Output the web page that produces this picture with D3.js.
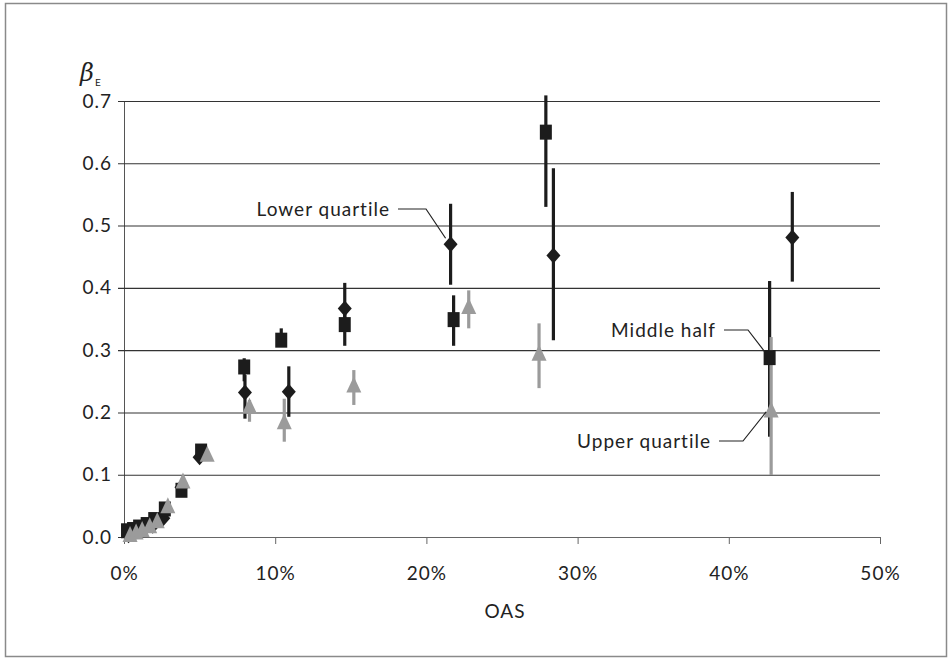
<!DOCTYPE html>
<html>
<head>
<meta charset="utf-8">
<script src="https://cdn.jsdelivr.net/npm/d3@7"></script>
<style>
  body { margin: 0; background: #fff; }
  text { font-family: Lato, "Noto Sans", sans-serif; fill: #222; }
</style>
</head>
<body>
<div id="chart"></div>
<script>
// data (OAS in %, beta_E)
var lowerX  = [0.3, 0.7, 1.0, 1.4, 1.9, 2.6, 3.8, 5.0, 8.0, 10.9, 14.6, 21.6, 28.4, 44.2];
var lowerY  = [0.003, 0.006, 0.010, 0.014, 0.018, 0.030, 0.080, 0.128, 0.232, 0.233, 0.367, 0.470, 0.452, 0.481];
var lowerLo = [null, null, null, null, null, null, null, null, 0.190, 0.193, 0.330, 0.405, 0.316, 0.410];
var lowerHi = [null, null, null, null, null, null, null, null, 0.260, 0.274, 0.408, 0.535, 0.592, 0.554];

var middleX  = [0.2, 0.6, 1.0, 1.5, 2.0, 2.7, 3.8, 5.1, 7.95, 10.4, 14.6, 21.8, 27.9, 42.7];
var middleY  = [0.010, 0.012, 0.016, 0.020, 0.028, 0.045, 0.075, 0.138, 0.273, 0.316, 0.341, 0.349, 0.650, 0.288];
var middleLo = [null, null, null, null, null, null, null, null, 0.250, 0.305, 0.307, 0.307, 0.530, 0.161];
var middleHi = [null, null, null, null, null, null, null, null, 0.287, 0.335, 0.360, 0.388, 0.709, 0.411];

var upperX  = [0.4, 0.8, 1.2, 1.7, 2.2, 2.9, 3.9, 5.5, 8.3, 10.6, 15.2, 22.8, 27.45, 42.8];
var upperY  = [0.004, 0.008, 0.012, 0.018, 0.026, 0.050, 0.090, 0.133, 0.210, 0.185, 0.244, 0.370, 0.295, 0.204];
var upperLo = [null, null, null, null, null, null, null, null, 0.185, 0.153, 0.212, 0.335, 0.239, 0.0995];
var upperHi = [null, null, null, null, null, null, null, null, 0.220, 0.222, 0.268, 0.396, 0.343, 0.321];

var xTicks = [0, 10, 20, 30, 40, 50];
var yTicks = [0, 0.1, 0.2, 0.3, 0.4, 0.5, 0.6, 0.7];

// callout labels: [text, series, point index]
var callouts = [
    { text: "Lower quartile", series: "lower", i: 11 },
    { text: "Middle half", series: "middle", i: 13 },
    { text: "Upper quartile", series: "upper", i: 13 }
];

var black = "#1c1c1c";
var grey = "#9b9b9b";
var labelFont = "19px";

function build(xs, ys, lo, hi) {
    return xs.map(function (d, i) { return { x: d, y: ys[i], lo: lo[i], hi: hi[i] }; });
}
var series = {
    lower: build(lowerX, lowerY, lowerLo, lowerHi),
    middle: build(middleX, middleY, middleLo, middleHi),
    upper: build(upperX, upperY, upperLo, upperHi)
};

var W = 952, H = 660;
var svg = d3.select("#chart").append("svg")
    .attr("width", W)
    .attr("height", H);

// outer frame
svg.append("rect")
    .attr("x", 5.5).attr("y", 3.5)
    .attr("width", 941).attr("height", 653)
    .style("fill", "none")
    .style("stroke", "#8a8a8a")
    .style("stroke-width", 1.5);

var x = d3.scaleLinear().domain([0, 50]).range([124, 880]);
var y = d3.scaleLinear().domain([0, 0.7]).range([537, 101]);

// gridlines + y labels
var yAxis = svg.append("g")
    .attr("transform", "translate(124,0)")
    .call(d3.axisLeft(y).tickValues(yTicks).tickFormat(d3.format(".1f"))
        .tickSize(-(880 - 124)).tickSizeOuter(0).tickPadding(12));
yAxis.select(".domain").attr("stroke", "#555");
yAxis.selectAll(".tick line").attr("stroke", "#333").attr("stroke-width", 1.1)
    .attr("x1", -6);
yAxis.selectAll(".tick text")
    .style("font-family", "Lato, sans-serif")
    .style("font-size", labelFont)
    .style("letter-spacing", "1px")
    .attr("fill", "#222");

// x axis
var xAxis = svg.append("g")
    .attr("transform", "translate(0,537)")
    .call(d3.axisBottom(x).tickValues(xTicks).tickFormat(function (d) { return d + "%"; })
        .tickSize(7).tickSizeOuter(0).tickPadding(23));
xAxis.select(".domain").attr("stroke", "#666").attr("stroke-width", 1.2);
xAxis.selectAll(".tick line").attr("stroke", "#666");
xAxis.selectAll(".tick text")
    .style("font-family", "Lato, sans-serif")
    .style("font-size", labelFont)
    .style("letter-spacing", "1px")
    .attr("fill", "#222");

// axis titles
svg.append("text")
    .attr("x", 505).attr("y", 618)
    .attr("text-anchor", "middle")
    .style("font-size", labelFont)
    .style("letter-spacing", "1px")
    .text("OAS");

var yt = svg.append("text")
    .attr("x", 80).attr("y", 81)
    .style("font-family", "'DejaVu Serif', serif")
    .style("font-style", "italic")
    .style("font-size", "24px");
yt.append("tspan").text("β");
yt.append("tspan").attr("dx", 1).attr("dy", 5)
    .style("font-family", "Lato, sans-serif")
    .style("font-style", "normal")
    .style("font-size", "10px")
    .text("E");

// error bars
function bars(data, color) {
    svg.append("g").selectAll("line")
        .data(data.filter(function (d) { return d.lo != null; }))
        .enter().append("line")
        .attr("x1", function (d) { return x(d.x); })
        .attr("x2", function (d) { return x(d.x); })
        .attr("y1", function (d) { return y(d.lo); })
        .attr("y2", function (d) { return y(d.hi); })
        .style("stroke", color)
        .style("stroke-width", 3.2);
}
bars(series.lower, black);
bars(series.middle, black);
bars(series.upper, grey);

// markers
svg.append("g").selectAll("path")
    .data(series.lower)
    .enter().append("path")
    .attr("d", "M0,-8L7,0L0,8L-7,0Z")
    .attr("transform", function (d) { return "translate(" + x(d.x) + "," + y(d.y) + ")"; })
    .style("fill", black);

svg.append("g").selectAll("rect")
    .data(series.middle)
    .enter().append("rect")
    .attr("x", function (d) { return x(d.x) - 6; })
    .attr("y", function (d) { return y(d.y) - 7.5; })
    .attr("width", 12)
    .attr("height", 15)
    .style("fill", black);

svg.append("g").selectAll("path")
    .data(series.upper)
    .enter().append("path")
    .attr("d", "M0,-8.5L7.5,7.5L-7.5,7.5Z")
    .attr("transform", function (d) { return "translate(" + x(d.x) + "," + y(d.y) + ")"; })
    .style("fill", grey);

// callouts with bent leader lines
var calloutPos = {
    "Lower quartile": { tx: 390, ty: 209, bend: 426 },
    "Middle half": { tx: 716, ty: 330, bend: 748 },
    "Upper quartile": { tx: 711, ty: 441, bend: 743 }
};
callouts.forEach(function (c) {
    var p = series[c.series][c.i];
    var pos = calloutPos[c.text];
    var px = x(p.x), py = y(p.y);
    var ex = px - 5, ey = c.series === "upper" ? py + 2 : py - 6;
    svg.append("path")
        .attr("d", "M" + (pos.tx + 8) + "," + pos.ty + "L" + pos.bend + "," + pos.ty + "L" + ex + "," + ey)
        .style("fill", "none")
        .style("stroke", "#222")
        .style("stroke-width", 1.2);
    svg.append("text")
        .attr("x", pos.tx).attr("y", pos.ty)
        .attr("dy", "0.35em")
        .attr("text-anchor", "end")
        .style("font-size", labelFont)
        .style("letter-spacing", "1px")
        .text(c.text);
});
</script>
</body>
</html>
